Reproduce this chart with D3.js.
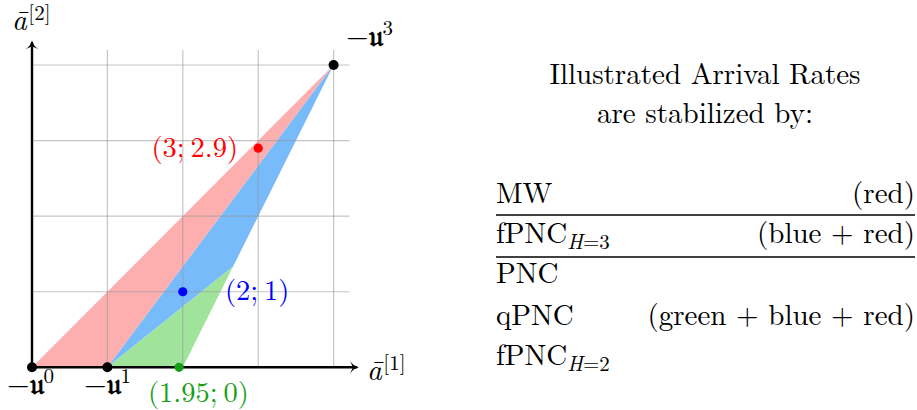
<!DOCTYPE html>
<html>
<head>
<meta charset="utf-8">
<script src="https://cdn.jsdelivr.net/npm/d3@7"></script>
<style>
  html, body { margin: 0; padding: 0; background: #fff; }
</style>
</head>
<body>
<svg id="chart" width="917" height="410"></svg>
<script>
// Region vertices (data units)
const redRegion   = [[0, 0], [4, 4], [1, 0]];
const blueRegion  = [[1, 0], [4, 4], [2.667, 1.333]];
const greenRegion = [[1, 0], [2.667, 1.333], [2, 0]];

// Corner vertices of the capacity region
const vertexNames = ["0", "1", "3"];
const vertexX = [0, 1, 4];
const vertexY = [0, 0, 4];

// Sample arrival rates
const sampleLabels = ["(3;\u20092.9)", "(2;\u20091)", "(1.95;\u20090)"];
const sampleX = [3, 2, 1.95];
const sampleY = [2.9, 1, 0];

// Grid ticks
const gridTicks = [0, 1, 2, 3, 4];

// Legend table
const titleLines = ["Illustrated Arrival Rates", "are stabilized by:"];
const policyNames = ["MW", "fPNC|H=3", "PNC", "qPNC", "fPNC|H=2"];
const policyRegions = ["(red)", "(blue + red)", "", "(green + blue + red)", ""];

const FONT = "Latin Modern Roman, Liberation Serif, serif";
const FS = 29, FS_SMALL = 21;
const svg = d3.select("#chart").attr("font-family", FONT);

const x = d3.scaleLinear().domain([0, 4]).range([32, 333.6]);
const y = d3.scaleLinear().domain([0, 4]).range([367.3, 65]);

const fills = { red: "#fdafaf", blue: "#78bbfa", green: "#a0e49c" };
const dotColors = { red: "#ff0000", blue: "#0000ff", green: "#16a016" };

const poly = d3.line().x(d => x(d[0])).y(d => y(d[1]));

// filled regions
[[redRegion, fills.red], [blueRegion, fills.blue], [greenRegion, fills.green]].forEach(([pts, c]) => {
  svg.append("path").attr("d", poly(pts) + "Z").attr("fill", c).attr("stroke", "none");
});

// grid on top, translucent
const grid = svg.append("g").attr("stroke", "rgba(150,150,150,0.55)").attr("stroke-width", 1.2);
gridTicks.forEach(t => {
  grid.append("line").attr("x1", x(t)).attr("x2", x(t)).attr("y1", y(0)).attr("y2", y(4.2));
  grid.append("line").attr("y1", y(t)).attr("y2", y(t)).attr("x1", x(0)).attr("x2", x(4.21));
});

// axes with arrow tips
const axes = svg.append("g").attr("stroke", "#000").attr("stroke-width", 2.4).attr("fill", "none");
axes.append("line").attr("x1", x(0)).attr("y1", y(0)).attr("x2", x(4.31)).attr("y2", y(0));
axes.append("line").attr("x1", x(0)).attr("y1", y(0)).attr("x2", x(0)).attr("y2", y(4.3));
function arrowHead(tx, ty, dir) {
  let d;
  if (dir === "right") {
    d = `M${tx},${ty} C${tx-4},${ty-1} ${tx-7},${ty-3} ${tx-9},${ty-6.5} L${tx-6},${ty} L${tx-9},${ty+6.5} C${tx-7},${ty+3} ${tx-4},${ty+1} ${tx},${ty}Z`;
  } else {
    d = `M${tx},${ty} C${tx-1},${ty+4} ${tx-3},${ty+7} ${tx-6.5},${ty+9} L${tx},${ty+6} L${tx+6.5},${ty+9} C${tx+3},${ty+7} ${tx+1},${ty+4} ${tx},${ty}Z`;
  }
  svg.append("path").attr("fill", "#000").attr("stroke", "none").attr("d", d);
}
arrowHead(x(4.31) + 2, y(0), "right");
arrowHead(x(0), y(4.3) - 2, "up");

// axis labels
function abarLabel(px, py, idx) {
  const t = svg.append("text").attr("x", px).attr("y", py).attr("font-size", FS).attr("fill", "#000");
  t.append("tspan").attr("font-style", "italic").text("ā");
  t.append("tspan").attr("font-size", FS_SMALL).attr("dy", -10).attr("dx", 1.5).text("[" + idx + "]");
}
abarLabel(12, 30, 2);
abarLabel(367, 380, 1);

// vertex dots and labels
const vertexLabelPos = [[7, 394], [84, 394], [346, 46]];
vertexX.forEach((vx, i) => {
  svg.append("circle").attr("cx", x(vx)).attr("cy", y(vertexY[i])).attr("r", 5).attr("fill", "#000");
  const t = svg.append("text").attr("x", vertexLabelPos[i][0]).attr("y", vertexLabelPos[i][1])
    .attr("font-size", FS).attr("fill", "#000");
  t.append("tspan").text("−");
  t.append("tspan").attr("font-weight", "bold").text("𝔲");
  t.append("tspan").attr("font-size", FS_SMALL).attr("dy", -11).text(vertexNames[i]);
});

// sample points and labels
const sampleColors = [dotColors.red, dotColors.blue, dotColors.green];
const sampleLabelPos = [[238, 157, "end"], [225, 300, "start"], [148, 402, "start"]];
sampleX.forEach((sx, i) => {
  svg.append("circle").attr("cx", x(sx)).attr("cy", y(sampleY[i])).attr("r", 4.6).attr("fill", sampleColors[i]);
  svg.append("text").attr("x", sampleLabelPos[i][0]).attr("y", sampleLabelPos[i][1])
    .attr("text-anchor", sampleLabelPos[i][2]).attr("font-size", 28.5).attr("fill", sampleColors[i])
    .text(sampleLabels[i]);
});

// title
titleLines.forEach((line, i) => {
  svg.append("text").attr("x", 705).attr("y", 84 + i * 39).attr("text-anchor", "middle")
    .attr("font-size", FS).attr("fill", "#000").text(line);
});

// table
const tableLeft = 496, tableRight = 915;
const rowBaselines = [203, 243, 283, 325, 365];
policyNames.forEach((name, i) => {
  const [base, sub] = name.split("|");
  const t = svg.append("text").attr("x", tableLeft).attr("y", rowBaselines[i]).attr("font-size", FS).attr("fill", "#000");
  t.append("tspan").text(base);
  if (sub) {
    t.append("tspan").attr("font-size", FS_SMALL).attr("dy", 6).attr("font-style", "italic").text(sub.split("=")[0]);
    t.append("tspan").attr("font-size", FS_SMALL).text("=" + sub.split("=")[1]);
  }
  if (policyRegions[i]) {
    svg.append("text").attr("x", tableRight).attr("y", rowBaselines[i]).attr("text-anchor", "end")
      .attr("font-size", FS).attr("fill", "#000").text(policyRegions[i]);
  }
});
[215, 257].forEach(ly => {
  svg.append("line").attr("x1", tableLeft).attr("x2", tableRight).attr("y1", ly).attr("y2", ly)
    .attr("stroke", "#000").attr("stroke-width", 1.3);
});
</script>
</body>
</html>
